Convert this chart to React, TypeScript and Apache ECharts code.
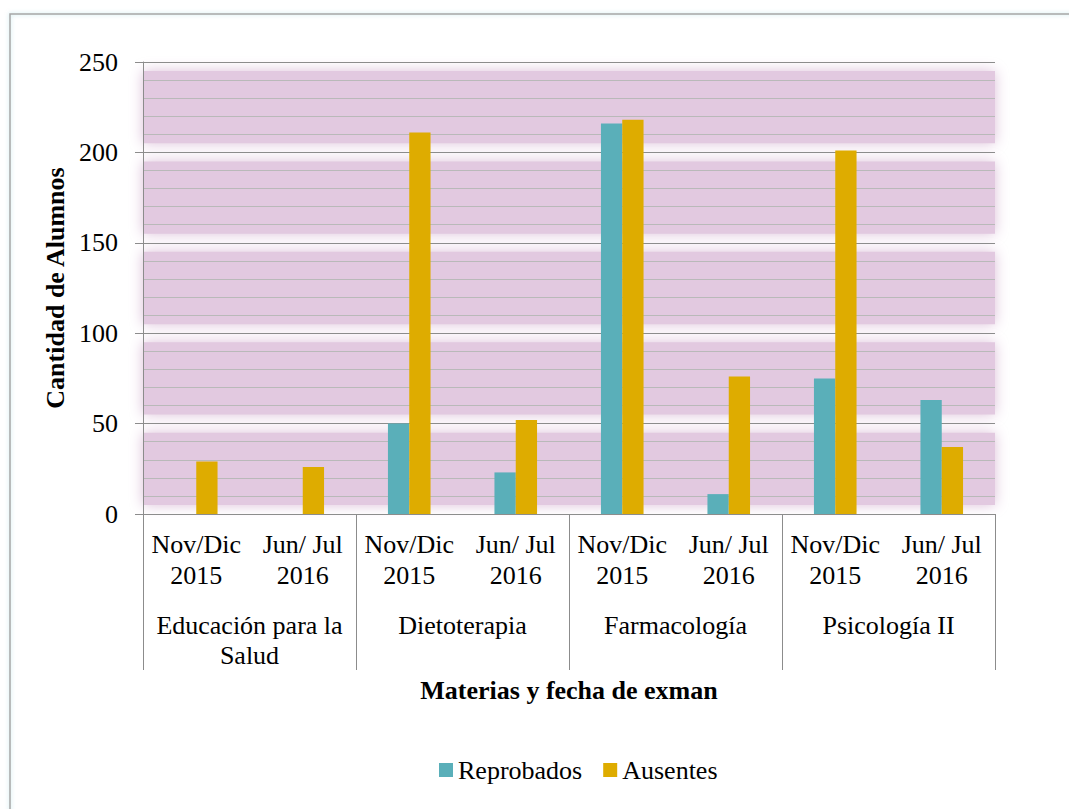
import React, { useEffect, useRef } from "react";
import * as echarts from "echarts";

const periods = ["Nov/Dic\n2015", "Jun/ Jul\n2016", "Nov/Dic\n2015", "Jun/ Jul\n2016", "Nov/Dic\n2015", "Jun/ Jul\n2016", "Nov/Dic\n2015", "Jun/ Jul\n2016"];
const subjects = ["Educación para la\nSalud", "Dietoterapia", "Farmacología", "Psicología II"];
const reprobados = [0, 0, 50, 23, 216, 11, 75, 63];
const ausentes = [29, 26, 211, 52, 218, 76, 201, 37];
const bandRanges = [[5, 45], [55, 95], [105, 145], [155, 195], [205, 245]];

const FONT = "Liberation Serif";

export default function App() {
  const ref = useRef<HTMLDivElement>(null);
  useEffect(() => {
    document.body.style.margin = "0";
    const chart = echarts.init(ref.current!, undefined, { renderer: "svg" });
    chart.setOption({
      animation: false,
      backgroundColor: "#ffffff",
      textStyle: { fontFamily: FONT, color: "#000" },
      grid: { left: 143, right: 74, top: 62, bottom: 295, containLabel: false },
      legend: {
        data: ["Reprobados", "Ausentes"],
        left: 434,
        top: 752,
        icon: "rect",
        itemWidth: 14,
        itemHeight: 14,
        itemGap: 21,
        textStyle: { fontFamily: FONT, fontSize: 26, color: "#000" },
      },
      xAxis: [
        {
          type: "category",
          data: periods,
          position: "bottom",
          axisLine: { show: true, lineStyle: { color: "#8c8c8c", width: 1 } },
          axisTick: { show: false },
          axisLabel: { interval: 0, fontFamily: FONT, fontSize: 26, lineHeight: 31, color: "#000", margin: 15 },
          splitLine: { show: false },
        },
        {
          type: "category",
          data: subjects,
          position: "bottom",
          offset: 0,
          axisLine: { show: false },
          axisTick: { show: true, length: 156, interval: 0, lineStyle: { color: "#8c8c8c", width: 1 } },
          axisLabel: { interval: 0, fontFamily: FONT, fontSize: 26, lineHeight: 30, color: "#000", margin: 96 },
          splitLine: { show: false },
          name: "Materias y fecha de exman",
          nameLocation: "middle",
          nameGap: 163,
          nameTextStyle: { fontFamily: FONT, fontSize: 26, fontWeight: "bold", color: "#000", verticalAlign: "top" },
        },
      ],
      yAxis: {
        type: "value",
        min: 0,
        max: 250,
        interval: 50,
        z: 1,
        axisLine: { show: true, lineStyle: { color: "#8c8c8c", width: 1 } },
        axisTick: { show: true, length: 8, lineStyle: { color: "#8c8c8c" } },
        axisLabel: { fontFamily: FONT, fontSize: 26, color: "#000", margin: 25 },
        splitLine: { show: true, lineStyle: { color: "#8c8c8c", width: 1 } },
        minorTick: { show: false, splitNumber: 5 },
        minorSplitLine: { show: true, lineStyle: { color: "#b9b9b9", width: 1 } },
        name: "Cantidad de Alumnos",
        nameLocation: "middle",
        nameGap: 74,
        nameTextStyle: { fontFamily: FONT, fontSize: 26, fontWeight: "bold", color: "#000" },
      },
      series: [
        {
          name: "Reprobados",
          type: "bar",
          data: reprobados,
          z: 2,
          barGap: "0%",
          barCategoryGap: "60%",
          itemStyle: { color: "#5aafb9" },
        },
        {
          name: "Ausentes",
          type: "bar",
          data: ausentes,
          z: 2,
          barGap: "0%",
          barCategoryGap: "60%",
          itemStyle: { color: "#deac00" },
        },
      ],
    });

    const x0 = chart.convertToPixel({ xAxisIndex: 0 }, 0) as number;
    const catW = (chart.convertToPixel({ xAxisIndex: 0 }, 1) as number) - x0;
    const left = x0 - catW / 2;
    const right = left + catW * periods.length;
    const bands = bandRanges.map(([a, b]) => {
      const yTop = chart.convertToPixel({ yAxisIndex: 0 }, b) as number;
      const yBot = chart.convertToPixel({ yAxisIndex: 0 }, a) as number;
      return {
        type: "rect",
        z: -1,
        silent: true,
        shape: { x: left, y: yTop, width: right - left, height: yBot - yTop },
        style: { fill: "#e2c9e0", shadowBlur: 14, shadowColor: "#dcbfd9" },
      };
    });
    chart.setOption({
      graphic: [
        {
          type: "rect",
          shape: { x: 10, y: 14, width: 1200, height: 1000 },
          style: { fill: "none", stroke: "#a6a6a6", lineWidth: 1.5, shadowBlur: 4, shadowColor: "rgba(120,200,210,0.5)" },
          z: -10,
          silent: true,
        },
        ...bands,
      ],
    });
    return () => chart.dispose();
  }, []);
  return <div ref={ref} style={{ width: 1069, height: 809 }} />;
}
